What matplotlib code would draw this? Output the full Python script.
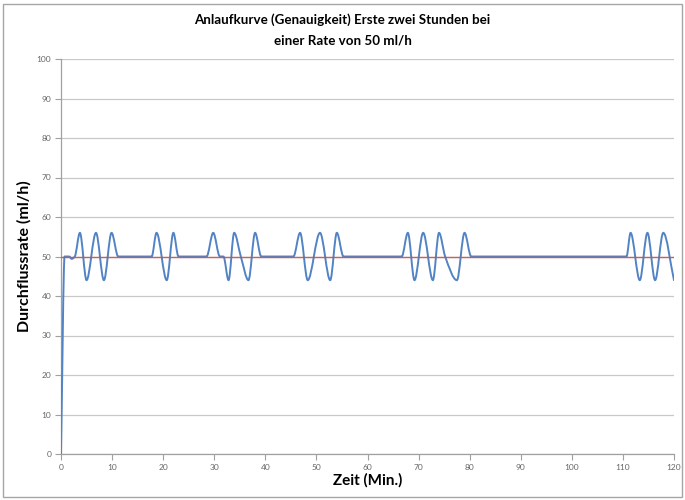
import numpy as np
import matplotlib
matplotlib.use("Agg")
import matplotlib.pyplot as plt
from matplotlib.path import Path
from matplotlib.patches import PathPatch, Rectangle

# ---- data ----
time_min = [0, 0.7, 1.6, 2.1, 2.7, 3.7, 5.0, 6.85, 8.4, 9.9, 11.2,
            17.75, 18.7, 20.7, 22.0, 23.0,
            28.5, 29.8, 31.1, 31.8, 32.8, 33.9, 35.2, 36.7, 38.0, 39.2,
            45.5, 46.8, 48.3, 50.7, 52.7, 54.0, 55.3,
            66.7, 67.9, 69.2, 70.9, 72.8, 74.0, 75.2, 77.5, 79.0, 80.3,
            110.7, 111.5, 113.3, 114.8, 116.3, 117.9, 120.0]
flow_rate = [0, 50, 50, 49.4, 50, 56, 44, 56, 44, 56, 50,
             50, 56, 44, 56, 50,
             50, 56, 50, 50, 44, 56, 50, 44, 56, 50,
             50, 56, 44, 56, 44, 56, 50,
             50, 56, 44, 56, 44, 56, 50, 44, 56, 50,
             50, 56, 44, 56, 44, 56, 44]
target_time = [0, 120]
target_rate = [50, 50]

title = "Anlaufkurve (Genauigkeit) Erste zwei Stunden bei\neiner Rate von 50 ml/h"
xlabel = "Zeit (Min.)"
ylabel = "Durchflussrate (ml/h)"
x_ticks = list(range(0, 121, 10))
y_ticks = list(range(0, 101, 10))

plt.rcParams['font.family'] = ['Lato', 'DejaVu Sans']

fig = plt.figure(figsize=(6.85, 5.0), dpi=100)
ax = fig.add_axes([61/685, 1-454/500, (674-61)/685, (454-59)/500])

# smooth (monotone cubic) rendering of the measured curve
x = np.asarray(time_min, float)
y = np.asarray(flow_rate, float)
h = np.diff(x)
d = np.diff(y) / h
m = np.zeros_like(y)
m[0] = d[0]
m[-1] = d[-1]
for k in range(1, len(x) - 1):
    if d[k-1] * d[k] <= 0:
        m[k] = 0.0
    else:
        w1 = 2*h[k] + h[k-1]
        w2 = h[k] + 2*h[k-1]
        m[k] = (w1 + w2) / (w1/d[k-1] + w2/d[k])
verts = [(x[0], y[0])]
codes = [Path.MOVETO]
for k in range(len(x) - 1):
    verts += [(x[k] + h[k]/3, y[k] + m[k]*h[k]/3),
              (x[k+1] - h[k]/3, y[k+1] - m[k+1]*h[k]/3),
              (x[k+1], y[k+1])]
    codes += [Path.CURVE4]*3
patch = PathPatch(Path(verts, codes), facecolor='none', edgecolor='#5283c4',
                  lw=1.4, zorder=3, capstyle='round', joinstyle='round')
ax.add_patch(patch)
ax.plot(target_time, target_rate, color='#c9504d', lw=1.0, zorder=4, alpha=0.85)

ax.set_xlim(0, 120)
ax.set_ylim(0, 100)
ax.set_xticks(x_ticks)
ax.set_yticks(y_ticks)
ax.grid(axis='y', color='#c8c8c8', lw=0.9)
ax.set_axisbelow(True)
for s in ['top', 'right']:
    ax.spines[s].set_visible(False)
for s in ['left', 'bottom']:
    ax.spines[s].set_color('#a0a0a0')
    ax.spines[s].set_linewidth(0.9)
ax.tick_params(axis='both', colors='#a0a0a0', labelcolor='#666666', labelsize=6,
               length=4, width=0.8, direction='out')
ax.tick_params(axis='x', pad=3)
ax.tick_params(axis='y', pad=3)

fig.text(0.5, 1 - 30/500, title, ha='center', va='center',
         fontsize=9.6, fontweight='bold', linespacing=1.85, color='#000000')
ax.set_xlabel(xlabel, fontsize=11, fontweight='bold', labelpad=2)
ax.set_ylabel(ylabel, fontsize=11.5, fontweight='bold', labelpad=4)

fig.patches.append(Rectangle((3/685, 3/500), 679/685, 493/500, transform=fig.transFigure,
                             fill=False, edgecolor='#a6a6a6', lw=1.0))

fig.savefig("out.png", dpi=100)
